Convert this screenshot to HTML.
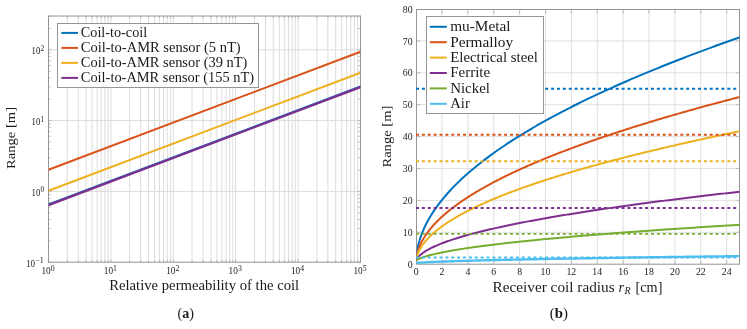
<!DOCTYPE html>
<html><head><meta charset="utf-8"><style>
html,body{margin:0;padding:0;background:#fff;width:747px;height:329px;overflow:hidden}
svg{display:block;will-change:transform}
text{font-family:"Liberation Serif", serif;fill:#1a1a1a}
</style></head><body>
<svg width="747" height="329" viewBox="0 0 747 329">
<rect width="747" height="329" fill="#fff"/>
<path d="M67.28 16.02V262.2M78.27 16.02V262.2M86.07 16.02V262.2M92.12 16.02V262.2M97.06 16.02V262.2M101.23 16.02V262.2M104.85 16.02V262.2M108.04 16.02V262.2M110.9 16.02V262.2M129.68 16.02V262.2M140.67 16.02V262.2M148.47 16.02V262.2M154.52 16.02V262.2M159.46 16.02V262.2M163.63 16.02V262.2M167.25 16.02V262.2M170.44 16.02V262.2M173.3 16.02V262.2M192.08 16.02V262.2M203.07 16.02V262.2M210.87 16.02V262.2M216.92 16.02V262.2M221.86 16.02V262.2M226.03 16.02V262.2M229.65 16.02V262.2M232.84 16.02V262.2M235.7 16.02V262.2M254.48 16.02V262.2M265.47 16.02V262.2M273.27 16.02V262.2M279.32 16.02V262.2M284.26 16.02V262.2M288.43 16.02V262.2M292.05 16.02V262.2M295.24 16.02V262.2M298.1 16.02V262.2M316.88 16.02V262.2M327.87 16.02V262.2M335.67 16.02V262.2M341.72 16.02V262.2M346.66 16.02V262.2M350.83 16.02V262.2M354.45 16.02V262.2M357.64 16.02V262.2M48.5 191.4H360.5M48.5 120.6H360.5M48.5 49.8H360.5" stroke="#dcdcdc" stroke-width="1" fill="none"/>
<path d="M48.5 262.2v-3M48.5 16.02v3M67.28 262.2v-2.2M67.28 16.02v2.2M78.27 262.2v-2.2M78.27 16.02v2.2M86.07 262.2v-2.2M86.07 16.02v2.2M92.12 262.2v-2.2M92.12 16.02v2.2M97.06 262.2v-2.2M97.06 16.02v2.2M101.23 262.2v-2.2M101.23 16.02v2.2M104.85 262.2v-2.2M104.85 16.02v2.2M108.04 262.2v-2.2M108.04 16.02v2.2M110.9 262.2v-3M110.9 16.02v3M129.68 262.2v-2.2M129.68 16.02v2.2M140.67 262.2v-2.2M140.67 16.02v2.2M148.47 262.2v-2.2M148.47 16.02v2.2M154.52 262.2v-2.2M154.52 16.02v2.2M159.46 262.2v-2.2M159.46 16.02v2.2M163.63 262.2v-2.2M163.63 16.02v2.2M167.25 262.2v-2.2M167.25 16.02v2.2M170.44 262.2v-2.2M170.44 16.02v2.2M173.3 262.2v-3M173.3 16.02v3M192.08 262.2v-2.2M192.08 16.02v2.2M203.07 262.2v-2.2M203.07 16.02v2.2M210.87 262.2v-2.2M210.87 16.02v2.2M216.92 262.2v-2.2M216.92 16.02v2.2M221.86 262.2v-2.2M221.86 16.02v2.2M226.03 262.2v-2.2M226.03 16.02v2.2M229.65 262.2v-2.2M229.65 16.02v2.2M232.84 262.2v-2.2M232.84 16.02v2.2M235.7 262.2v-3M235.7 16.02v3M254.48 262.2v-2.2M254.48 16.02v2.2M265.47 262.2v-2.2M265.47 16.02v2.2M273.27 262.2v-2.2M273.27 16.02v2.2M279.32 262.2v-2.2M279.32 16.02v2.2M284.26 262.2v-2.2M284.26 16.02v2.2M288.43 262.2v-2.2M288.43 16.02v2.2M292.05 262.2v-2.2M292.05 16.02v2.2M295.24 262.2v-2.2M295.24 16.02v2.2M298.1 262.2v-3M298.1 16.02v3M316.88 262.2v-2.2M316.88 16.02v2.2M327.87 262.2v-2.2M327.87 16.02v2.2M335.67 262.2v-2.2M335.67 16.02v2.2M341.72 262.2v-2.2M341.72 16.02v2.2M346.66 262.2v-2.2M346.66 16.02v2.2M350.83 262.2v-2.2M350.83 16.02v2.2M354.45 262.2v-2.2M354.45 16.02v2.2M357.64 262.2v-2.2M357.64 16.02v2.2M360.5 262.2v-3M360.5 16.02v3M48.5 262.2h3M360.5 262.2h-3M48.5 240.89h2.2M360.5 240.89h-2.2M48.5 228.42h2.2M360.5 228.42h-2.2M48.5 219.57h2.2M360.5 219.57h-2.2M48.5 212.71h2.2M360.5 212.71h-2.2M48.5 207.11h2.2M360.5 207.11h-2.2M48.5 202.37h2.2M360.5 202.37h-2.2M48.5 198.26h2.2M360.5 198.26h-2.2M48.5 194.64h2.2M360.5 194.64h-2.2M48.5 191.4h3M360.5 191.4h-3M48.5 170.09h2.2M360.5 170.09h-2.2M48.5 157.62h2.2M360.5 157.62h-2.2M48.5 148.77h2.2M360.5 148.77h-2.2M48.5 141.91h2.2M360.5 141.91h-2.2M48.5 136.31h2.2M360.5 136.31h-2.2M48.5 131.57h2.2M360.5 131.57h-2.2M48.5 127.46h2.2M360.5 127.46h-2.2M48.5 123.84h2.2M360.5 123.84h-2.2M48.5 120.6h3M360.5 120.6h-3M48.5 99.29h2.2M360.5 99.29h-2.2M48.5 86.82h2.2M360.5 86.82h-2.2M48.5 77.97h2.2M360.5 77.97h-2.2M48.5 71.11h2.2M360.5 71.11h-2.2M48.5 65.51h2.2M360.5 65.51h-2.2M48.5 60.77h2.2M360.5 60.77h-2.2M48.5 56.66h2.2M360.5 56.66h-2.2M48.5 53.04h2.2M360.5 53.04h-2.2M48.5 49.8h3M360.5 49.8h-3M48.5 28.49h2.2M360.5 28.49h-2.2M48.5 16.02h2.2M360.5 16.02h-2.2" stroke="#bdbdbd" stroke-width="1" fill="none"/>
<rect x="48.5" y="16.02" width="312" height="246.18" stroke="#959595" stroke-width="1" fill="none"/>
<clipPath id="cl"><rect x="48.5" y="16.02" width="312" height="246.18"/></clipPath>
<path d="M48.5 169.71L360.5 51.71" stroke="#D95319" stroke-width="2.0" fill="none" clip-path="url(#cl)"/>
<path d="M48.5 190.76L360.5 72.76" stroke="#EDB120" stroke-width="2.0" fill="none" clip-path="url(#cl)"/>
<path d="M48.5 204.55L360.5 86.55" stroke="#0072BD" stroke-width="2.0" fill="none" clip-path="url(#cl)"/>
<path d="M48.5 205.15L360.5 87.15" stroke="#7E2F8E" stroke-width="2.2" fill="none" clip-path="url(#cl)"/>
<rect x="57.5" y="23.5" width="201" height="64" fill="#fff" stroke="#959595" stroke-width="1"/>
<path d="M61.3 32.9H78" stroke="#0072BD" stroke-width="2"/>
<text x="80.8" y="37.1" font-size="14.2" textLength="66.4" lengthAdjust="spacingAndGlyphs" >Coil-to-coil</text>
<path d="M61.3 47.9H78" stroke="#D95319" stroke-width="2"/>
<text x="80.8" y="52.1" font-size="14.2" textLength="159.8" lengthAdjust="spacingAndGlyphs" >Coil-to-AMR sensor (5 nT)</text>
<path d="M61.3 62.9H78" stroke="#EDB120" stroke-width="2"/>
<text x="80.8" y="67.1" font-size="14.2" textLength="166.6" lengthAdjust="spacingAndGlyphs" >Coil-to-AMR sensor (39 nT)</text>
<path d="M61.3 77.9H78" stroke="#7E2F8E" stroke-width="2"/>
<text x="80.8" y="82.1" font-size="14.2" textLength="173.2" lengthAdjust="spacingAndGlyphs" >Coil-to-AMR sensor (155 nT)</text>
<text x="41.4" y="273.7" font-size="10.2" textLength="9.2" lengthAdjust="spacingAndGlyphs" >10</text>
<text x="50.7" y="271.2" font-size="7.2" textLength="3.9" lengthAdjust="spacingAndGlyphs" >0</text>
<text x="103.8" y="273.7" font-size="10.2" textLength="9.2" lengthAdjust="spacingAndGlyphs" >10</text>
<text x="113.1" y="271.2" font-size="7.2" textLength="3.9" lengthAdjust="spacingAndGlyphs" >1</text>
<text x="166.2" y="273.7" font-size="10.2" textLength="9.2" lengthAdjust="spacingAndGlyphs" >10</text>
<text x="175.5" y="271.2" font-size="7.2" textLength="3.9" lengthAdjust="spacingAndGlyphs" >2</text>
<text x="228.6" y="273.7" font-size="10.2" textLength="9.2" lengthAdjust="spacingAndGlyphs" >10</text>
<text x="237.9" y="271.2" font-size="7.2" textLength="3.9" lengthAdjust="spacingAndGlyphs" >3</text>
<text x="291" y="273.7" font-size="10.2" textLength="9.2" lengthAdjust="spacingAndGlyphs" >10</text>
<text x="300.3" y="271.2" font-size="7.2" textLength="3.9" lengthAdjust="spacingAndGlyphs" >4</text>
<text x="353.4" y="273.7" font-size="10.2" textLength="9.2" lengthAdjust="spacingAndGlyphs" >10</text>
<text x="362.7" y="271.2" font-size="7.2" textLength="3.9" lengthAdjust="spacingAndGlyphs" >5</text>
<text x="25.9" y="266.9" font-size="10.2" textLength="9" lengthAdjust="spacingAndGlyphs" >10</text>
<text x="35.2" y="262.6" font-size="7.2" textLength="8.4" lengthAdjust="spacingAndGlyphs" >&#8722;1</text>
<text x="31.6" y="196" font-size="10.2" textLength="8.7" lengthAdjust="spacingAndGlyphs" >10</text>
<text x="40.4" y="192.3" font-size="7.2" textLength="3.7" lengthAdjust="spacingAndGlyphs" >0</text>
<text x="31.6" y="125.2" font-size="10.2" textLength="8.7" lengthAdjust="spacingAndGlyphs" >10</text>
<text x="40.4" y="121.5" font-size="7.2" textLength="3.7" lengthAdjust="spacingAndGlyphs" >1</text>
<text x="31.6" y="54.4" font-size="10.2" textLength="8.7" lengthAdjust="spacingAndGlyphs" >10</text>
<text x="40.4" y="50.7" font-size="7.2" textLength="3.7" lengthAdjust="spacingAndGlyphs" >2</text>
<text x="109.2" y="290.1" font-size="13.7" textLength="190" lengthAdjust="spacingAndGlyphs" >Relative permeability of the coil</text>
<text x="0" y="0" font-size="13" transform="translate(14.6 169) rotate(-90)" textLength="62" lengthAdjust="spacingAndGlyphs">Range [m]</text>
<text x="177.6" y="318.2" font-size="15" textLength="16.4" lengthAdjust="spacingAndGlyphs">(<tspan font-weight="bold">a</tspan>)</text>
<path d="M441.98 9.5V264.2M467.86 9.5V264.2M493.74 9.5V264.2M519.62 9.5V264.2M545.5 9.5V264.2M571.38 9.5V264.2M597.26 9.5V264.2M623.14 9.5V264.2M649.02 9.5V264.2M674.9 9.5V264.2M700.78 9.5V264.2M726.66 9.5V264.2M416.5 232.3H739.5M416.5 200.4H739.5M416.5 168.5H739.5M416.5 136.6H739.5M416.5 104.7H739.5M416.5 72.8H739.5M416.5 40.9H739.5" stroke="#e0e0e0" stroke-width="1" fill="none"/>
<path d="M441.98 264.2v-4M441.98 9.5v4M467.86 264.2v-4M467.86 9.5v4M493.74 264.2v-4M493.74 9.5v4M519.62 264.2v-4M519.62 9.5v4M545.5 264.2v-4M545.5 9.5v4M571.38 264.2v-4M571.38 9.5v4M597.26 264.2v-4M597.26 9.5v4M623.14 264.2v-4M623.14 9.5v4M649.02 264.2v-4M649.02 9.5v4M674.9 264.2v-4M674.9 9.5v4M700.78 264.2v-4M700.78 9.5v4M726.66 264.2v-4M726.66 9.5v4M416.5 232.3h4M739.5 232.3h-4M416.5 200.4h4M739.5 200.4h-4M416.5 168.5h4M739.5 168.5h-4M416.5 136.6h4M739.5 136.6h-4M416.5 104.7h4M739.5 104.7h-4M416.5 72.8h4M739.5 72.8h-4M416.5 40.9h4M739.5 40.9h-4" stroke="#bdbdbd" stroke-width="1" fill="none"/>
<rect x="416.5" y="9.5" width="323" height="254.7" stroke="#959595" stroke-width="1" fill="none"/>
<clipPath id="cr"><rect x="416.5" y="9.5" width="323" height="254.7"/></clipPath>
<path d="M416.1 260.05L416.1 259.98L416.11 259.78L416.13 259.47L416.16 259.06L416.19 258.58L416.23 258.04L416.28 257.46L416.33 256.85L416.39 256.21L416.46 255.55L416.54 254.88L416.62 254.19L416.71 253.5L416.81 252.79L416.92 252.08L417.03 251.37L417.15 250.65L417.27 249.92L417.41 249.19L417.55 248.46L417.7 247.73L417.85 246.99L418.02 246.26L418.19 245.52L418.36 244.78L418.55 244.03L418.74 243.29L418.94 242.55L419.15 241.8L419.36 241.05L419.58 240.31L419.81 239.56L420.05 238.81L420.29 238.06L420.54 237.31L420.8 236.56L421.06 235.81L421.33 235.06L421.61 234.31L421.9 233.56L422.19 232.8L422.49 232.05L422.8 231.3L423.11 230.55L423.44 229.79L423.77 229.04L424.1 228.28L424.45 227.53L424.8 226.78L425.16 226.02L425.52 225.27L425.9 224.51L426.28 223.76L426.67 223L427.06 222.25L427.46 221.49L427.87 220.74L428.29 219.98L428.71 219.22L429.14 218.47L429.58 217.71L430.03 216.96L430.48 216.2L430.94 215.44L431.41 214.69L431.88 213.93L432.36 213.17L432.85 212.42L433.35 211.66L433.85 210.91L434.36 210.15L434.88 209.39L435.41 208.63L435.94 207.88L436.48 207.12L437.03 206.36L437.58 205.61L438.14 204.85L438.71 204.09L439.29 203.33L439.87 202.58L440.46 201.82L441.06 201.06L441.67 200.31L442.28 199.55L442.9 198.79L443.52 198.03L444.16 197.28L444.8 196.52L445.45 195.76L446.1 195L446.77 194.24L447.44 193.49L448.11 192.73L448.8 191.97L449.49 191.21L450.19 190.46L450.9 189.7L451.61 188.94L452.33 188.18L453.06 187.42L453.8 186.67L454.54 185.91L455.29 185.15L456.05 184.39L456.81 183.63L457.58 182.88L458.36 182.12L459.15 181.36L459.94 180.6L460.74 179.84L461.55 179.09L462.36 178.33L463.19 177.57L464.02 176.81L464.85 176.05L465.7 175.29L466.55 174.54L467.41 173.78L468.27 173.02L469.15 172.26L470.03 171.5L470.92 170.75L471.81 169.99L472.71 169.23L473.62 168.47L474.54 167.71L475.46 166.95L476.39 166.2L477.33 165.44L478.28 164.68L479.23 163.92L480.19 163.16L481.16 162.4L482.13 161.64L483.11 160.89L484.1 160.13L485.1 159.37L486.1 158.61L487.11 157.85L488.13 157.09L489.16 156.34L490.19 155.58L491.23 154.82L492.28 154.06L493.33 153.3L494.39 152.54L495.46 151.78L496.54 151.03L497.62 150.27L498.71 149.51L499.81 148.75L500.92 147.99L502.03 147.23L503.15 146.47L504.27 145.72L505.41 144.96L506.55 144.2L507.7 143.44L508.85 142.68L510.02 141.92L511.19 141.16L512.36 140.41L513.55 139.65L514.74 138.89L515.94 138.13L517.15 137.37L518.36 136.61L519.58 135.85L520.81 135.1L522.05 134.34L523.29 133.58L524.54 132.82L525.8 132.06L527.06 131.3L528.33 130.54L529.61 129.78L530.9 129.03L532.19 128.27L533.49 127.51L534.8 126.75L536.11 125.99L537.44 125.23L538.77 124.47L540.1 123.71L541.45 122.96L542.8 122.2L544.16 121.44L545.52 120.68L546.9 119.92L548.28 119.16L549.67 118.4L551.06 117.65L552.46 116.89L553.87 116.13L555.29 115.37L556.71 114.61L558.14 113.85L559.58 113.09L561.03 112.33L562.48 111.57L563.94 110.82L565.41 110.06L566.88 109.3L568.36 108.54L569.85 107.78L571.35 107.02L572.85 106.26L574.36 105.5L575.88 104.75L577.41 103.99L578.94 103.23L580.48 102.47L582.03 101.71L583.58 100.95L585.14 100.19L586.71 99.43L588.29 98.68L589.87 97.92L591.46 97.16L593.06 96.4L594.67 95.64L596.28 94.88L597.9 94.12L599.52 93.36L601.16 92.61L602.8 91.85L604.45 91.09L606.1 90.33L607.77 89.57L609.44 88.81L611.12 88.05L612.8 87.29L614.49 86.53L616.19 85.78L617.9 85.02L619.61 84.26L621.33 83.5L623.06 82.74L624.8 81.98L626.54 81.22L628.29 80.46L630.05 79.7L631.81 78.95L633.58 78.19L635.36 77.43L637.15 76.67L638.94 75.91L640.74 75.15L642.55 74.39L644.37 73.63L646.19 72.87L648.02 72.12L649.85 71.36L651.7 70.6L653.55 69.84L655.41 69.08L657.27 68.32L659.15 67.56L661.03 66.8L662.92 66.05L664.81 65.29L666.71 64.53L668.62 63.77L670.54 63.01L672.46 62.25L674.39 61.49L676.33 60.73L678.28 59.97L680.23 59.22L682.19 58.46L684.16 57.7L686.13 56.94L688.12 56.18L690.1 55.42L692.1 54.66L694.1 53.9L696.12 53.14L698.13 52.38L700.16 51.63L702.19 50.87L704.23 50.11L706.28 49.35L708.33 48.59L710.39 47.83L712.46 47.07L714.54 46.31L716.62 45.55L718.71 44.8L720.81 44.04L722.92 43.28L725.03 42.52L727.15 41.76L729.27 41L731.41 40.24L733.55 39.48L735.7 38.72L737.85 37.97L740.02 37.21L742.19 36.45" stroke="#0072BD" stroke-width="2.0" fill="none" clip-path="url(#cr)"/>
<path d="M416.1 260.05L416.1 260.02L416.11 259.9L416.13 259.73L416.16 259.49L416.19 259.2L416.23 258.86L416.28 258.5L416.33 258.1L416.39 257.68L416.46 257.24L416.54 256.78L416.62 256.31L416.71 255.83L416.81 255.34L416.92 254.84L417.03 254.34L417.15 253.83L417.27 253.31L417.41 252.79L417.55 252.27L417.7 251.74L417.85 251.21L418.02 250.68L418.19 250.15L418.36 249.61L418.55 249.08L418.74 248.54L418.94 248L419.15 247.46L419.36 246.91L419.58 246.37L419.81 245.82L420.05 245.28L420.29 244.73L420.54 244.19L420.8 243.64L421.06 243.09L421.33 242.54L421.61 241.99L421.9 241.44L422.19 240.89L422.49 240.34L422.8 239.79L423.11 239.24L423.44 238.69L423.77 238.14L424.1 237.58L424.45 237.03L424.8 236.48L425.16 235.92L425.52 235.37L425.9 234.82L426.28 234.26L426.67 233.71L427.06 233.15L427.46 232.6L427.87 232.05L428.29 231.49L428.71 230.94L429.14 230.38L429.58 229.82L430.03 229.27L430.48 228.71L430.94 228.16L431.41 227.6L431.88 227.05L432.36 226.49L432.85 225.93L433.35 225.38L433.85 224.82L434.36 224.27L434.88 223.71L435.41 223.15L435.94 222.6L436.48 222.04L437.03 221.48L437.58 220.93L438.14 220.37L438.71 219.81L439.29 219.26L439.87 218.7L440.46 218.14L441.06 217.58L441.67 217.03L442.28 216.47L442.9 215.91L443.52 215.35L444.16 214.8L444.8 214.24L445.45 213.68L446.1 213.12L446.77 212.57L447.44 212.01L448.11 211.45L448.8 210.89L449.49 210.34L450.19 209.78L450.9 209.22L451.61 208.66L452.33 208.11L453.06 207.55L453.8 206.99L454.54 206.43L455.29 205.87L456.05 205.32L456.81 204.76L457.58 204.2L458.36 203.64L459.15 203.08L459.94 202.53L460.74 201.97L461.55 201.41L462.36 200.85L463.19 200.29L464.02 199.73L464.85 199.18L465.7 198.62L466.55 198.06L467.41 197.5L468.27 196.94L469.15 196.38L470.03 195.83L470.92 195.27L471.81 194.71L472.71 194.15L473.62 193.59L474.54 193.03L475.46 192.48L476.39 191.92L477.33 191.36L478.28 190.8L479.23 190.24L480.19 189.68L481.16 189.12L482.13 188.57L483.11 188.01L484.1 187.45L485.1 186.89L486.1 186.33L487.11 185.77L488.13 185.21L489.16 184.66L490.19 184.1L491.23 183.54L492.28 182.98L493.33 182.42L494.39 181.86L495.46 181.3L496.54 180.74L497.62 180.19L498.71 179.63L499.81 179.07L500.92 178.51L502.03 177.95L503.15 177.39L504.27 176.83L505.41 176.27L506.55 175.72L507.7 175.16L508.85 174.6L510.02 174.04L511.19 173.48L512.36 172.92L513.55 172.36L514.74 171.8L515.94 171.25L517.15 170.69L518.36 170.13L519.58 169.57L520.81 169.01L522.05 168.45L523.29 167.89L524.54 167.33L525.8 166.77L527.06 166.22L528.33 165.66L529.61 165.1L530.9 164.54L532.19 163.98L533.49 163.42L534.8 162.86L536.11 162.3L537.44 161.74L538.77 161.18L540.1 160.63L541.45 160.07L542.8 159.51L544.16 158.95L545.52 158.39L546.9 157.83L548.28 157.27L549.67 156.71L551.06 156.15L552.46 155.6L553.87 155.04L555.29 154.48L556.71 153.92L558.14 153.36L559.58 152.8L561.03 152.24L562.48 151.68L563.94 151.12L565.41 150.56L566.88 150L568.36 149.45L569.85 148.89L571.35 148.33L572.85 147.77L574.36 147.21L575.88 146.65L577.41 146.09L578.94 145.53L580.48 144.97L582.03 144.41L583.58 143.86L585.14 143.3L586.71 142.74L588.29 142.18L589.87 141.62L591.46 141.06L593.06 140.5L594.67 139.94L596.28 139.38L597.9 138.82L599.52 138.26L601.16 137.71L602.8 137.15L604.45 136.59L606.1 136.03L607.77 135.47L609.44 134.91L611.12 134.35L612.8 133.79L614.49 133.23L616.19 132.67L617.9 132.11L619.61 131.55L621.33 131L623.06 130.44L624.8 129.88L626.54 129.32L628.29 128.76L630.05 128.2L631.81 127.64L633.58 127.08L635.36 126.52L637.15 125.96L638.94 125.4L640.74 124.84L642.55 124.29L644.37 123.73L646.19 123.17L648.02 122.61L649.85 122.05L651.7 121.49L653.55 120.93L655.41 120.37L657.27 119.81L659.15 119.25L661.03 118.69L662.92 118.13L664.81 117.58L666.71 117.02L668.62 116.46L670.54 115.9L672.46 115.34L674.39 114.78L676.33 114.22L678.28 113.66L680.23 113.1L682.19 112.54L684.16 111.98L686.13 111.42L688.12 110.87L690.1 110.31L692.1 109.75L694.1 109.19L696.12 108.63L698.13 108.07L700.16 107.51L702.19 106.95L704.23 106.39L706.28 105.83L708.33 105.27L710.39 104.71L712.46 104.15L714.54 103.6L716.62 103.04L718.71 102.48L720.81 101.92L722.92 101.36L725.03 100.8L727.15 100.24L729.27 99.68L731.41 99.12L733.55 98.56L735.7 98L737.85 97.44L740.02 96.88L742.19 96.33" stroke="#D95319" stroke-width="2.0" fill="none" clip-path="url(#cr)"/>
<path d="M416.1 260.05L416.1 260.03L416.11 259.96L416.13 259.84L416.16 259.69L416.19 259.49L416.23 259.27L416.28 259.01L416.33 258.74L416.39 258.44L416.46 258.12L416.54 257.79L416.62 257.44L416.71 257.09L416.81 256.72L416.92 256.35L417.03 255.97L417.15 255.58L417.27 255.19L417.41 254.79L417.55 254.39L417.7 253.98L417.85 253.58L418.02 253.16L418.19 252.75L418.36 252.34L418.55 251.92L418.74 251.5L418.94 251.08L419.15 250.65L419.36 250.23L419.58 249.81L419.81 249.38L420.05 248.95L420.29 248.52L420.54 248.09L420.8 247.66L421.06 247.23L421.33 246.8L421.61 246.37L421.9 245.94L422.19 245.5L422.49 245.07L422.8 244.64L423.11 244.2L423.44 243.77L423.77 243.33L424.1 242.89L424.45 242.46L424.8 242.02L425.16 241.58L425.52 241.15L425.9 240.71L426.28 240.27L426.67 239.83L427.06 239.4L427.46 238.96L427.87 238.52L428.29 238.08L428.71 237.64L429.14 237.2L429.58 236.76L430.03 236.32L430.48 235.88L430.94 235.44L431.41 235L431.88 234.56L432.36 234.12L432.85 233.68L433.35 233.24L433.85 232.8L434.36 232.36L434.88 231.92L435.41 231.48L435.94 231.04L436.48 230.59L437.03 230.15L437.58 229.71L438.14 229.27L438.71 228.83L439.29 228.39L439.87 227.95L440.46 227.5L441.06 227.06L441.67 226.62L442.28 226.18L442.9 225.74L443.52 225.29L444.16 224.85L444.8 224.41L445.45 223.97L446.1 223.53L446.77 223.08L447.44 222.64L448.11 222.2L448.8 221.76L449.49 221.31L450.19 220.87L450.9 220.43L451.61 219.99L452.33 219.54L453.06 219.1L453.8 218.66L454.54 218.21L455.29 217.77L456.05 217.33L456.81 216.89L457.58 216.44L458.36 216L459.15 215.56L459.94 215.11L460.74 214.67L461.55 214.23L462.36 213.78L463.19 213.34L464.02 212.9L464.85 212.45L465.7 212.01L466.55 211.57L467.41 211.12L468.27 210.68L469.15 210.24L470.03 209.79L470.92 209.35L471.81 208.91L472.71 208.46L473.62 208.02L474.54 207.58L475.46 207.13L476.39 206.69L477.33 206.25L478.28 205.8L479.23 205.36L480.19 204.92L481.16 204.47L482.13 204.03L483.11 203.59L484.1 203.14L485.1 202.7L486.1 202.26L487.11 201.81L488.13 201.37L489.16 200.92L490.19 200.48L491.23 200.04L492.28 199.59L493.33 199.15L494.39 198.71L495.46 198.26L496.54 197.82L497.62 197.37L498.71 196.93L499.81 196.49L500.92 196.04L502.03 195.6L503.15 195.16L504.27 194.71L505.41 194.27L506.55 193.82L507.7 193.38L508.85 192.94L510.02 192.49L511.19 192.05L512.36 191.6L513.55 191.16L514.74 190.72L515.94 190.27L517.15 189.83L518.36 189.38L519.58 188.94L520.81 188.5L522.05 188.05L523.29 187.61L524.54 187.16L525.8 186.72L527.06 186.28L528.33 185.83L529.61 185.39L530.9 184.94L532.19 184.5L533.49 184.06L534.8 183.61L536.11 183.17L537.44 182.72L538.77 182.28L540.1 181.84L541.45 181.39L542.8 180.95L544.16 180.5L545.52 180.06L546.9 179.62L548.28 179.17L549.67 178.73L551.06 178.28L552.46 177.84L553.87 177.39L555.29 176.95L556.71 176.51L558.14 176.06L559.58 175.62L561.03 175.17L562.48 174.73L563.94 174.29L565.41 173.84L566.88 173.4L568.36 172.95L569.85 172.51L571.35 172.06L572.85 171.62L574.36 171.18L575.88 170.73L577.41 170.29L578.94 169.84L580.48 169.4L582.03 168.96L583.58 168.51L585.14 168.07L586.71 167.62L588.29 167.18L589.87 166.73L591.46 166.29L593.06 165.85L594.67 165.4L596.28 164.96L597.9 164.51L599.52 164.07L601.16 163.62L602.8 163.18L604.45 162.74L606.1 162.29L607.77 161.85L609.44 161.4L611.12 160.96L612.8 160.51L614.49 160.07L616.19 159.63L617.9 159.18L619.61 158.74L621.33 158.29L623.06 157.85L624.8 157.4L626.54 156.96L628.29 156.52L630.05 156.07L631.81 155.63L633.58 155.18L635.36 154.74L637.15 154.29L638.94 153.85L640.74 153.41L642.55 152.96L644.37 152.52L646.19 152.07L648.02 151.63L649.85 151.18L651.7 150.74L653.55 150.3L655.41 149.85L657.27 149.41L659.15 148.96L661.03 148.52L662.92 148.07L664.81 147.63L666.71 147.18L668.62 146.74L670.54 146.3L672.46 145.85L674.39 145.41L676.33 144.96L678.28 144.52L680.23 144.07L682.19 143.63L684.16 143.19L686.13 142.74L688.12 142.3L690.1 141.85L692.1 141.41L694.1 140.96L696.12 140.52L698.13 140.07L700.16 139.63L702.19 139.19L704.23 138.74L706.28 138.3L708.33 137.85L710.39 137.41L712.46 136.96L714.54 136.52L716.62 136.07L718.71 135.63L720.81 135.19L722.92 134.74L725.03 134.3L727.15 133.85L729.27 133.41L731.41 132.96L733.55 132.52L735.7 132.07L737.85 131.63L740.02 131.19L742.19 130.74" stroke="#EDB120" stroke-width="2.0" fill="none" clip-path="url(#cr)"/>
<path d="M416.1 260.05L416.1 260.05L416.11 260.02L416.13 259.99L416.16 259.94L416.19 259.88L416.23 259.81L416.28 259.72L416.33 259.62L416.39 259.52L416.46 259.4L416.54 259.27L416.62 259.14L416.71 258.99L416.81 258.84L416.92 258.69L417.03 258.52L417.15 258.36L417.27 258.18L417.41 258.01L417.55 257.82L417.7 257.64L417.85 257.45L418.02 257.26L418.19 257.06L418.36 256.86L418.55 256.66L418.74 256.46L418.94 256.25L419.15 256.05L419.36 255.84L419.58 255.62L419.81 255.41L420.05 255.2L420.29 254.98L420.54 254.77L420.8 254.55L421.06 254.33L421.33 254.11L421.61 253.89L421.9 253.66L422.19 253.44L422.49 253.22L422.8 252.99L423.11 252.77L423.44 252.54L423.77 252.32L424.1 252.09L424.45 251.86L424.8 251.63L425.16 251.4L425.52 251.17L425.9 250.94L426.28 250.71L426.67 250.48L427.06 250.25L427.46 250.02L427.87 249.79L428.29 249.56L428.71 249.32L429.14 249.09L429.58 248.86L430.03 248.63L430.48 248.39L430.94 248.16L431.41 247.92L431.88 247.69L432.36 247.46L432.85 247.22L433.35 246.99L433.85 246.75L434.36 246.52L434.88 246.28L435.41 246.04L435.94 245.81L436.48 245.57L437.03 245.34L437.58 245.1L438.14 244.86L438.71 244.63L439.29 244.39L439.87 244.15L440.46 243.92L441.06 243.68L441.67 243.44L442.28 243.21L442.9 242.97L443.52 242.73L444.16 242.49L444.8 242.26L445.45 242.02L446.1 241.78L446.77 241.54L447.44 241.3L448.11 241.07L448.8 240.83L449.49 240.59L450.19 240.35L450.9 240.11L451.61 239.87L452.33 239.63L453.06 239.4L453.8 239.16L454.54 238.92L455.29 238.68L456.05 238.44L456.81 238.2L457.58 237.96L458.36 237.72L459.15 237.48L459.94 237.25L460.74 237.01L461.55 236.77L462.36 236.53L463.19 236.29L464.02 236.05L464.85 235.81L465.7 235.57L466.55 235.33L467.41 235.09L468.27 234.85L469.15 234.61L470.03 234.37L470.92 234.13L471.81 233.89L472.71 233.65L473.62 233.41L474.54 233.17L475.46 232.93L476.39 232.69L477.33 232.45L478.28 232.21L479.23 231.97L480.19 231.73L481.16 231.49L482.13 231.25L483.11 231.01L484.1 230.77L485.1 230.53L486.1 230.29L487.11 230.05L488.13 229.81L489.16 229.57L490.19 229.33L491.23 229.09L492.28 228.85L493.33 228.61L494.39 228.37L495.46 228.13L496.54 227.89L497.62 227.64L498.71 227.4L499.81 227.16L500.92 226.92L502.03 226.68L503.15 226.44L504.27 226.2L505.41 225.96L506.55 225.72L507.7 225.48L508.85 225.24L510.02 225L511.19 224.76L512.36 224.52L513.55 224.28L514.74 224.03L515.94 223.79L517.15 223.55L518.36 223.31L519.58 223.07L520.81 222.83L522.05 222.59L523.29 222.35L524.54 222.11L525.8 221.87L527.06 221.63L528.33 221.38L529.61 221.14L530.9 220.9L532.19 220.66L533.49 220.42L534.8 220.18L536.11 219.94L537.44 219.7L538.77 219.46L540.1 219.21L541.45 218.97L542.8 218.73L544.16 218.49L545.52 218.25L546.9 218.01L548.28 217.77L549.67 217.53L551.06 217.29L552.46 217.04L553.87 216.8L555.29 216.56L556.71 216.32L558.14 216.08L559.58 215.84L561.03 215.6L562.48 215.36L563.94 215.11L565.41 214.87L566.88 214.63L568.36 214.39L569.85 214.15L571.35 213.91L572.85 213.67L574.36 213.43L575.88 213.18L577.41 212.94L578.94 212.7L580.48 212.46L582.03 212.22L583.58 211.98L585.14 211.74L586.71 211.5L588.29 211.25L589.87 211.01L591.46 210.77L593.06 210.53L594.67 210.29L596.28 210.05L597.9 209.81L599.52 209.56L601.16 209.32L602.8 209.08L604.45 208.84L606.1 208.6L607.77 208.36L609.44 208.12L611.12 207.87L612.8 207.63L614.49 207.39L616.19 207.15L617.9 206.91L619.61 206.67L621.33 206.42L623.06 206.18L624.8 205.94L626.54 205.7L628.29 205.46L630.05 205.22L631.81 204.98L633.58 204.73L635.36 204.49L637.15 204.25L638.94 204.01L640.74 203.77L642.55 203.53L644.37 203.28L646.19 203.04L648.02 202.8L649.85 202.56L651.7 202.32L653.55 202.08L655.41 201.84L657.27 201.59L659.15 201.35L661.03 201.11L662.92 200.87L664.81 200.63L666.71 200.39L668.62 200.14L670.54 199.9L672.46 199.66L674.39 199.42L676.33 199.18L678.28 198.94L680.23 198.69L682.19 198.45L684.16 198.21L686.13 197.97L688.12 197.73L690.1 197.49L692.1 197.24L694.1 197L696.12 196.76L698.13 196.52L700.16 196.28L702.19 196.04L704.23 195.79L706.28 195.55L708.33 195.31L710.39 195.07L712.46 194.83L714.54 194.59L716.62 194.34L718.71 194.1L720.81 193.86L722.92 193.62L725.03 193.38L727.15 193.14L729.27 192.89L731.41 192.65L733.55 192.41L735.7 192.17L737.85 191.93L740.02 191.69L742.19 191.44" stroke="#7E2F8E" stroke-width="2.0" fill="none" clip-path="url(#cr)"/>
<path d="M416.1 260.37L416.1 260.37L416.11 260.36L416.13 260.35L416.16 260.34L416.19 260.32L416.23 260.29L416.28 260.26L416.33 260.23L416.39 260.19L416.46 260.15L416.54 260.11L416.62 260.06L416.71 260.01L416.81 259.95L416.92 259.89L417.03 259.83L417.15 259.77L417.27 259.7L417.41 259.63L417.55 259.56L417.7 259.48L417.85 259.4L418.02 259.32L418.19 259.24L418.36 259.16L418.55 259.07L418.74 258.98L418.94 258.89L419.15 258.8L419.36 258.71L419.58 258.61L419.81 258.52L420.05 258.42L420.29 258.32L420.54 258.22L420.8 258.12L421.06 258.01L421.33 257.91L421.61 257.81L421.9 257.7L422.19 257.59L422.49 257.49L422.8 257.38L423.11 257.27L423.44 257.16L423.77 257.05L424.1 256.94L424.45 256.83L424.8 256.71L425.16 256.6L425.52 256.49L425.9 256.37L426.28 256.26L426.67 256.14L427.06 256.03L427.46 255.91L427.87 255.79L428.29 255.68L428.71 255.56L429.14 255.44L429.58 255.32L430.03 255.2L430.48 255.08L430.94 254.97L431.41 254.85L431.88 254.73L432.36 254.61L432.85 254.48L433.35 254.36L433.85 254.24L434.36 254.12L434.88 254L435.41 253.88L435.94 253.76L436.48 253.63L437.03 253.51L437.58 253.39L438.14 253.27L438.71 253.14L439.29 253.02L439.87 252.9L440.46 252.77L441.06 252.65L441.67 252.52L442.28 252.4L442.9 252.28L443.52 252.15L444.16 252.03L444.8 251.9L445.45 251.78L446.1 251.65L446.77 251.53L447.44 251.4L448.11 251.28L448.8 251.15L449.49 251.03L450.19 250.9L450.9 250.77L451.61 250.65L452.33 250.52L453.06 250.4L453.8 250.27L454.54 250.14L455.29 250.02L456.05 249.89L456.81 249.76L457.58 249.64L458.36 249.51L459.15 249.38L459.94 249.26L460.74 249.13L461.55 249L462.36 248.88L463.19 248.75L464.02 248.62L464.85 248.49L465.7 248.37L466.55 248.24L467.41 248.11L468.27 247.98L469.15 247.86L470.03 247.73L470.92 247.6L471.81 247.47L472.71 247.35L473.62 247.22L474.54 247.09L475.46 246.96L476.39 246.83L477.33 246.71L478.28 246.58L479.23 246.45L480.19 246.32L481.16 246.19L482.13 246.06L483.11 245.94L484.1 245.81L485.1 245.68L486.1 245.55L487.11 245.42L488.13 245.29L489.16 245.16L490.19 245.04L491.23 244.91L492.28 244.78L493.33 244.65L494.39 244.52L495.46 244.39L496.54 244.26L497.62 244.13L498.71 244.01L499.81 243.88L500.92 243.75L502.03 243.62L503.15 243.49L504.27 243.36L505.41 243.23L506.55 243.1L507.7 242.97L508.85 242.84L510.02 242.71L511.19 242.59L512.36 242.46L513.55 242.33L514.74 242.2L515.94 242.07L517.15 241.94L518.36 241.81L519.58 241.68L520.81 241.55L522.05 241.42L523.29 241.29L524.54 241.16L525.8 241.03L527.06 240.9L528.33 240.77L529.61 240.64L530.9 240.52L532.19 240.39L533.49 240.26L534.8 240.13L536.11 240L537.44 239.87L538.77 239.74L540.1 239.61L541.45 239.48L542.8 239.35L544.16 239.22L545.52 239.09L546.9 238.96L548.28 238.83L549.67 238.7L551.06 238.57L552.46 238.44L553.87 238.31L555.29 238.18L556.71 238.05L558.14 237.92L559.58 237.79L561.03 237.66L562.48 237.53L563.94 237.4L565.41 237.27L566.88 237.14L568.36 237.01L569.85 236.88L571.35 236.75L572.85 236.62L574.36 236.49L575.88 236.36L577.41 236.23L578.94 236.1L580.48 235.97L582.03 235.84L583.58 235.71L585.14 235.58L586.71 235.45L588.29 235.32L589.87 235.19L591.46 235.06L593.06 234.93L594.67 234.8L596.28 234.67L597.9 234.54L599.52 234.41L601.16 234.28L602.8 234.15L604.45 234.02L606.1 233.89L607.77 233.76L609.44 233.63L611.12 233.5L612.8 233.37L614.49 233.24L616.19 233.11L617.9 232.97L619.61 232.84L621.33 232.71L623.06 232.58L624.8 232.45L626.54 232.32L628.29 232.19L630.05 232.06L631.81 231.93L633.58 231.8L635.36 231.67L637.15 231.54L638.94 231.41L640.74 231.28L642.55 231.15L644.37 231.02L646.19 230.89L648.02 230.76L649.85 230.63L651.7 230.5L653.55 230.37L655.41 230.24L657.27 230.11L659.15 229.98L661.03 229.84L662.92 229.71L664.81 229.58L666.71 229.45L668.62 229.32L670.54 229.19L672.46 229.06L674.39 228.93L676.33 228.8L678.28 228.67L680.23 228.54L682.19 228.41L684.16 228.28L686.13 228.15L688.12 228.02L690.1 227.89L692.1 227.76L694.1 227.63L696.12 227.5L698.13 227.36L700.16 227.23L702.19 227.1L704.23 226.97L706.28 226.84L708.33 226.71L710.39 226.58L712.46 226.45L714.54 226.32L716.62 226.19L718.71 226.06L720.81 225.93L722.92 225.8L725.03 225.67L727.15 225.54L729.27 225.4L731.41 225.27L733.55 225.14L735.7 225.01L737.85 224.88L740.02 224.75L742.19 224.62" stroke="#77AC30" stroke-width="2.0" fill="none" clip-path="url(#cr)"/>
<path d="M416.1 262.92L416.1 262.92L416.11 262.92L416.13 262.92L416.16 262.92L416.19 262.92L416.23 262.91L416.28 262.91L416.33 262.91L416.39 262.9L416.46 262.9L416.54 262.89L416.62 262.88L416.71 262.88L416.81 262.87L416.92 262.86L417.03 262.85L417.15 262.85L417.27 262.84L417.41 262.83L417.55 262.82L417.7 262.81L417.85 262.8L418.02 262.78L418.19 262.77L418.36 262.76L418.55 262.75L418.74 262.73L418.94 262.72L419.15 262.71L419.36 262.69L419.58 262.68L419.81 262.66L420.05 262.65L420.29 262.63L420.54 262.62L420.8 262.6L421.06 262.59L421.33 262.57L421.61 262.55L421.9 262.54L422.19 262.52L422.49 262.5L422.8 262.48L423.11 262.47L423.44 262.45L423.77 262.43L424.1 262.41L424.45 262.39L424.8 262.37L425.16 262.35L425.52 262.33L425.9 262.31L426.28 262.29L426.67 262.28L427.06 262.26L427.46 262.23L427.87 262.21L428.29 262.19L428.71 262.17L429.14 262.15L429.58 262.13L430.03 262.11L430.48 262.09L430.94 262.07L431.41 262.05L431.88 262.02L432.36 262L432.85 261.98L433.35 261.96L433.85 261.94L434.36 261.92L434.88 261.89L435.41 261.87L435.94 261.85L436.48 261.83L437.03 261.8L437.58 261.78L438.14 261.76L438.71 261.74L439.29 261.71L439.87 261.69L440.46 261.67L441.06 261.64L441.67 261.62L442.28 261.6L442.9 261.57L443.52 261.55L444.16 261.53L444.8 261.5L445.45 261.48L446.1 261.46L446.77 261.43L447.44 261.41L448.11 261.39L448.8 261.36L449.49 261.34L450.19 261.31L450.9 261.29L451.61 261.27L452.33 261.24L453.06 261.22L453.8 261.19L454.54 261.17L455.29 261.15L456.05 261.12L456.81 261.1L457.58 261.07L458.36 261.05L459.15 261.02L459.94 261L460.74 260.97L461.55 260.95L462.36 260.93L463.19 260.9L464.02 260.88L464.85 260.85L465.7 260.83L466.55 260.8L467.41 260.78L468.27 260.75L469.15 260.73L470.03 260.7L470.92 260.68L471.81 260.65L472.71 260.63L473.62 260.6L474.54 260.58L475.46 260.55L476.39 260.53L477.33 260.5L478.28 260.48L479.23 260.45L480.19 260.43L481.16 260.4L482.13 260.38L483.11 260.35L484.1 260.33L485.1 260.3L486.1 260.28L487.11 260.25L488.13 260.23L489.16 260.2L490.19 260.18L491.23 260.15L492.28 260.13L493.33 260.1L494.39 260.07L495.46 260.05L496.54 260.02L497.62 260L498.71 259.97L499.81 259.95L500.92 259.92L502.03 259.9L503.15 259.87L504.27 259.85L505.41 259.82L506.55 259.79L507.7 259.77L508.85 259.74L510.02 259.72L511.19 259.69L512.36 259.67L513.55 259.64L514.74 259.62L515.94 259.59L517.15 259.56L518.36 259.54L519.58 259.51L520.81 259.49L522.05 259.46L523.29 259.44L524.54 259.41L525.8 259.38L527.06 259.36L528.33 259.33L529.61 259.31L530.9 259.28L532.19 259.26L533.49 259.23L534.8 259.2L536.11 259.18L537.44 259.15L538.77 259.13L540.1 259.1L541.45 259.07L542.8 259.05L544.16 259.02L545.52 259L546.9 258.97L548.28 258.95L549.67 258.92L551.06 258.89L552.46 258.87L553.87 258.84L555.29 258.82L556.71 258.79L558.14 258.76L559.58 258.74L561.03 258.71L562.48 258.69L563.94 258.66L565.41 258.63L566.88 258.61L568.36 258.58L569.85 258.56L571.35 258.53L572.85 258.5L574.36 258.48L575.88 258.45L577.41 258.43L578.94 258.4L580.48 258.37L582.03 258.35L583.58 258.32L585.14 258.3L586.71 258.27L588.29 258.24L589.87 258.22L591.46 258.19L593.06 258.17L594.67 258.14L596.28 258.11L597.9 258.09L599.52 258.06L601.16 258.03L602.8 258.01L604.45 257.98L606.1 257.96L607.77 257.93L609.44 257.9L611.12 257.88L612.8 257.85L614.49 257.83L616.19 257.8L617.9 257.77L619.61 257.75L621.33 257.72L623.06 257.69L624.8 257.67L626.54 257.64L628.29 257.62L630.05 257.59L631.81 257.56L633.58 257.54L635.36 257.51L637.15 257.49L638.94 257.46L640.74 257.43L642.55 257.41L644.37 257.38L646.19 257.35L648.02 257.33L649.85 257.3L651.7 257.28L653.55 257.25L655.41 257.22L657.27 257.2L659.15 257.17L661.03 257.14L662.92 257.12L664.81 257.09L666.71 257.07L668.62 257.04L670.54 257.01L672.46 256.99L674.39 256.96L676.33 256.93L678.28 256.91L680.23 256.88L682.19 256.86L684.16 256.83L686.13 256.8L688.12 256.78L690.1 256.75L692.1 256.72L694.1 256.7L696.12 256.67L698.13 256.65L700.16 256.62L702.19 256.59L704.23 256.57L706.28 256.54L708.33 256.51L710.39 256.49L712.46 256.46L714.54 256.43L716.62 256.41L718.71 256.38L720.81 256.36L722.92 256.33L725.03 256.3L727.15 256.28L729.27 256.25L731.41 256.22L733.55 256.2L735.7 256.17L737.85 256.14L740.02 256.12L742.19 256.09" stroke="#4DBEEE" stroke-width="2.4" fill="none" clip-path="url(#cr)"/>
<path d="M416 88.75H739" stroke="#0072BD" stroke-width="1.95" stroke-dasharray="3 2.874" fill="none"/>
<path d="M416 134.69H739" stroke="#D95319" stroke-width="1.95" stroke-dasharray="3 2.874" fill="none"/>
<path d="M416 161.32H739" stroke="#EDB120" stroke-width="1.95" stroke-dasharray="3 2.874" fill="none"/>
<path d="M416 208.06H739" stroke="#7E2F8E" stroke-width="1.95" stroke-dasharray="3 2.874" fill="none"/>
<path d="M416 233.89H739" stroke="#77AC30" stroke-width="1.95" stroke-dasharray="3 2.874" fill="none"/>
<path d="M416 257.5H739" stroke="#4DBEEE" stroke-width="1.95" stroke-dasharray="3 2.874" fill="none"/>
<rect x="426.5" y="16.5" width="117" height="97" fill="#fff" stroke="#959595" stroke-width="1"/>
<path d="M429.8 26.8H446.8" stroke="#0072BD" stroke-width="2"/>
<text x="450.2" y="31.2" font-size="14.6" textLength="60.3" lengthAdjust="spacingAndGlyphs" >mu-Metal</text>
<path d="M429.8 42.2H446.8" stroke="#D95319" stroke-width="2"/>
<text x="450.2" y="46.58" font-size="14.6" textLength="63" lengthAdjust="spacingAndGlyphs" >Permalloy</text>
<path d="M429.8 57.6H446.8" stroke="#EDB120" stroke-width="2"/>
<text x="450.2" y="61.96" font-size="14.6" textLength="87.8" lengthAdjust="spacingAndGlyphs" >Electrical steel</text>
<path d="M429.8 73H446.8" stroke="#7E2F8E" stroke-width="2"/>
<text x="450.2" y="77.34" font-size="14.6" textLength="40" lengthAdjust="spacingAndGlyphs" >Ferrite</text>
<path d="M429.8 88.4H446.8" stroke="#77AC30" stroke-width="2"/>
<text x="450.2" y="92.72" font-size="14.6" textLength="39.8" lengthAdjust="spacingAndGlyphs" >Nickel</text>
<path d="M429.8 103.8H446.8" stroke="#4DBEEE" stroke-width="2"/>
<text x="450.2" y="108.1" font-size="14.6" textLength="19.6" lengthAdjust="spacingAndGlyphs" >Air</text>
<text x="416.1" y="274.8" font-size="10.4" text-anchor="middle" textLength="4.9" lengthAdjust="spacingAndGlyphs" >0</text>
<text x="441.98" y="274.8" font-size="10.4" text-anchor="middle" textLength="4.9" lengthAdjust="spacingAndGlyphs" >2</text>
<text x="467.86" y="274.8" font-size="10.4" text-anchor="middle" textLength="4.9" lengthAdjust="spacingAndGlyphs" >4</text>
<text x="493.74" y="274.8" font-size="10.4" text-anchor="middle" textLength="4.9" lengthAdjust="spacingAndGlyphs" >6</text>
<text x="519.62" y="274.8" font-size="10.4" text-anchor="middle" textLength="4.9" lengthAdjust="spacingAndGlyphs" >8</text>
<text x="545.5" y="274.8" font-size="10.4" text-anchor="middle" textLength="9.8" lengthAdjust="spacingAndGlyphs" >10</text>
<text x="571.38" y="274.8" font-size="10.4" text-anchor="middle" textLength="9.8" lengthAdjust="spacingAndGlyphs" >12</text>
<text x="597.26" y="274.8" font-size="10.4" text-anchor="middle" textLength="9.8" lengthAdjust="spacingAndGlyphs" >14</text>
<text x="623.14" y="274.8" font-size="10.4" text-anchor="middle" textLength="9.8" lengthAdjust="spacingAndGlyphs" >16</text>
<text x="649.02" y="274.8" font-size="10.4" text-anchor="middle" textLength="9.8" lengthAdjust="spacingAndGlyphs" >18</text>
<text x="674.9" y="274.8" font-size="10.4" text-anchor="middle" textLength="9.8" lengthAdjust="spacingAndGlyphs" >20</text>
<text x="700.78" y="274.8" font-size="10.4" text-anchor="middle" textLength="9.8" lengthAdjust="spacingAndGlyphs" >22</text>
<text x="726.66" y="274.8" font-size="10.4" text-anchor="middle" textLength="9.8" lengthAdjust="spacingAndGlyphs" >24</text>
<text x="412.6" y="267.8" font-size="10.4" text-anchor="end" textLength="4.9" lengthAdjust="spacingAndGlyphs" >0</text>
<text x="412.6" y="235.9" font-size="10.4" text-anchor="end" textLength="9.8" lengthAdjust="spacingAndGlyphs" >10</text>
<text x="412.6" y="204" font-size="10.4" text-anchor="end" textLength="9.8" lengthAdjust="spacingAndGlyphs" >20</text>
<text x="412.6" y="172.1" font-size="10.4" text-anchor="end" textLength="9.8" lengthAdjust="spacingAndGlyphs" >30</text>
<text x="412.6" y="140.2" font-size="10.4" text-anchor="end" textLength="9.8" lengthAdjust="spacingAndGlyphs" >40</text>
<text x="412.6" y="108.3" font-size="10.4" text-anchor="end" textLength="9.8" lengthAdjust="spacingAndGlyphs" >50</text>
<text x="412.6" y="76.4" font-size="10.4" text-anchor="end" textLength="9.8" lengthAdjust="spacingAndGlyphs" >60</text>
<text x="412.6" y="44.5" font-size="10.4" text-anchor="end" textLength="9.8" lengthAdjust="spacingAndGlyphs" >70</text>
<text x="412.6" y="12.6" font-size="10.4" text-anchor="end" textLength="9.8" lengthAdjust="spacingAndGlyphs" >80</text>
<text x="492.6" y="291.7" font-size="14.5" textLength="122" lengthAdjust="spacingAndGlyphs">Receiver coil radius</text>
<text x="618.6" y="291.7" font-size="14.5" font-style="italic">r</text>
<text x="624.6" y="294.4" font-size="10" font-style="italic">R</text>
<text x="635.6" y="291.7" font-size="14.5" textLength="26.8" lengthAdjust="spacingAndGlyphs">[cm]</text>
<text x="0" y="0" font-size="13.4" transform="translate(391.4 167.6) rotate(-90)" textLength="62" lengthAdjust="spacingAndGlyphs">Range [m]</text>
<text x="549.8" y="318.3" font-size="15" textLength="18.2" lengthAdjust="spacingAndGlyphs">(<tspan font-weight="bold">b</tspan>)</text>
</svg>
</body></html>
